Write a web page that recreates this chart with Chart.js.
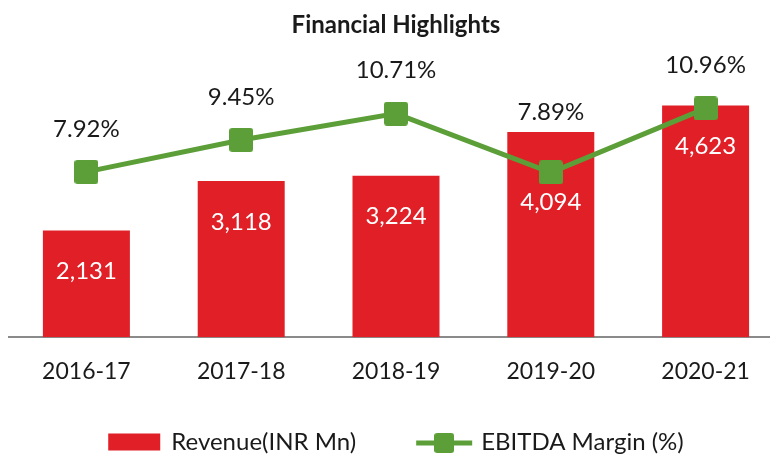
<!DOCTYPE html>
<html>
<head>
<meta charset="utf-8">
<script src="https://cdn.jsdelivr.net/npm/chart.js@4.4.1/dist/chart.umd.min.js"></script>
<style>
  html, body { margin: 0; padding: 0; overflow: hidden; background: #fff; }
  #wrap { width: 792px; height: 455px; }
</style>
</head>
<body>
<div id="wrap"><canvas id="chart" width="792" height="455"></canvas></div>
<script>
const years = ['2016-17', '2017-18', '2018-19', '2019-20', '2020-21'];
const revenue = [2131, 3118, 3224, 4094, 4623];
const ebitdaMargin = [7.92, 9.45, 10.71, 7.89, 10.96];

const RED = '#e01f27';
const GREEN = '#5c9f38';
const FONT = 'Lato';

// label nudges (px); the 2019-20 pair was moved apart in the original
const barLabelDy = [41, 41, 41, 70, 41];
const lineLabelDy = [-43, -43, -43, -60, -43];

// rounded square marker for the margin line
function makeMarker(size, radius) {
    const c = document.createElement('canvas');
    c.width = size; c.height = size;
    const g = c.getContext('2d');
    g.fillStyle = GREEN;
    g.beginPath();
    g.moveTo(radius, 0);
    g.arcTo(size, 0, size, size, radius);
    g.arcTo(size, size, 0, size, radius);
    g.arcTo(0, size, 0, 0, radius);
    g.arcTo(0, 0, size, 0, radius);
    g.closePath();
    g.fill();
    return c;
}
const marker = makeMarker(24, 3);

const valueLabels = {
    id: 'valueLabels',
    afterDatasetsDraw(chart) {
        const ctx = chart.ctx;
        ctx.save();
        ctx.font = '24px ' + FONT;
        ctx.textAlign = 'center';
        ctx.textBaseline = 'middle';
        chart.data.datasets.forEach((ds, i) => {
            chart.getDatasetMeta(i).data.forEach((el, j) => {
                if (ds.type === 'bar') {
                    ctx.fillStyle = '#ffffff';
                    ctx.fillText(ds.data[j].toLocaleString('en-US'), el.x, el.y + barLabelDy[j]);
                } else {
                    ctx.fillStyle = '#1a1a1a';
                    ctx.fillText(ds.data[j].toFixed(2) + '%', el.x, el.y + lineLabelDy[j]);
                }
            });
        });
        ctx.restore();
    }
};

const bottomLegend = {
    id: 'bottomLegend',
    afterDraw(chart) {
        const ctx = chart.ctx;
        const ds = chart.data.datasets;
        ctx.save();
        ctx.font = '24px ' + FONT;
        ctx.textBaseline = 'middle';
        const w1 = ctx.measureText(ds[0].label).width;
        const w2 = ctx.measureText(ds[1].label).width;
        const total = 52 + 11 + w1 + 60 + 56 + 9 + w2;
        let x = chart.width / 2 - total / 2;
        const y = 442;
        ctx.fillStyle = RED;
        ctx.fillRect(x, y - 8.5, 52, 17);
        x += 52 + 11;
        ctx.fillStyle = '#1a1a1a';
        ctx.fillText(ds[0].label, x, y);
        x += w1 + 60;
        ctx.strokeStyle = GREEN;
        ctx.lineWidth = 5;
        ctx.beginPath();
        ctx.moveTo(x, y + 1);
        ctx.lineTo(x + 56, y + 1);
        ctx.stroke();
        ctx.drawImage(makeMarker(20, 3), x + 18, y - 9);
        x += 56 + 9;
        ctx.fillStyle = '#1a1a1a';
        ctx.fillText(ds[1].label, x, y);
        ctx.restore();
    }
};

new Chart(document.getElementById('chart'), {
    data: {
        labels: years,
        datasets: [
            {
                type: 'bar',
                label: 'Revenue(INR Mn)',
                data: revenue,
                backgroundColor: RED,
                yAxisID: 'y',
                order: 2,
                barPercentage: 0.562,
                categoryPercentage: 1
            },
            {
                type: 'line',
                label: 'EBITDA Margin (%)',
                data: ebitdaMargin,
                borderColor: GREEN,
                backgroundColor: GREEN,
                borderWidth: 5,
                pointStyle: marker,
                yAxisID: 'y2',
                order: 1
            }
        ]
    },
    options: {
        responsive: false,
        animation: false,
        layout: { padding: { left: 9, right: 9, top: 0, bottom: 0 } },
        scales: {
            x: {
                grid: { display: false },
                border: { display: true, color: '#8a8a8a', width: 2 },
                ticks: { color: '#1a1a1a', font: { family: FONT, size: 23 }, padding: 13 },
                afterFit: s => { s.height = 117.8; }
            },
            y: { display: false, min: 0, max: 5000 },
            y2: { display: false, min: 0, max: 12 }
        },
        plugins: {
            legend: { display: false },
            tooltip: { enabled: false },
            title: {
                display: true,
                text: 'Financial Highlights',
                color: '#1a1a1a',
                font: { family: FONT, size: 24, weight: 'bold' },
                padding: { top: 11, bottom: 46.9 }
            }
        }
    },
    plugins: [valueLabels, bottomLegend]
});
</script>
</body>
</html>
